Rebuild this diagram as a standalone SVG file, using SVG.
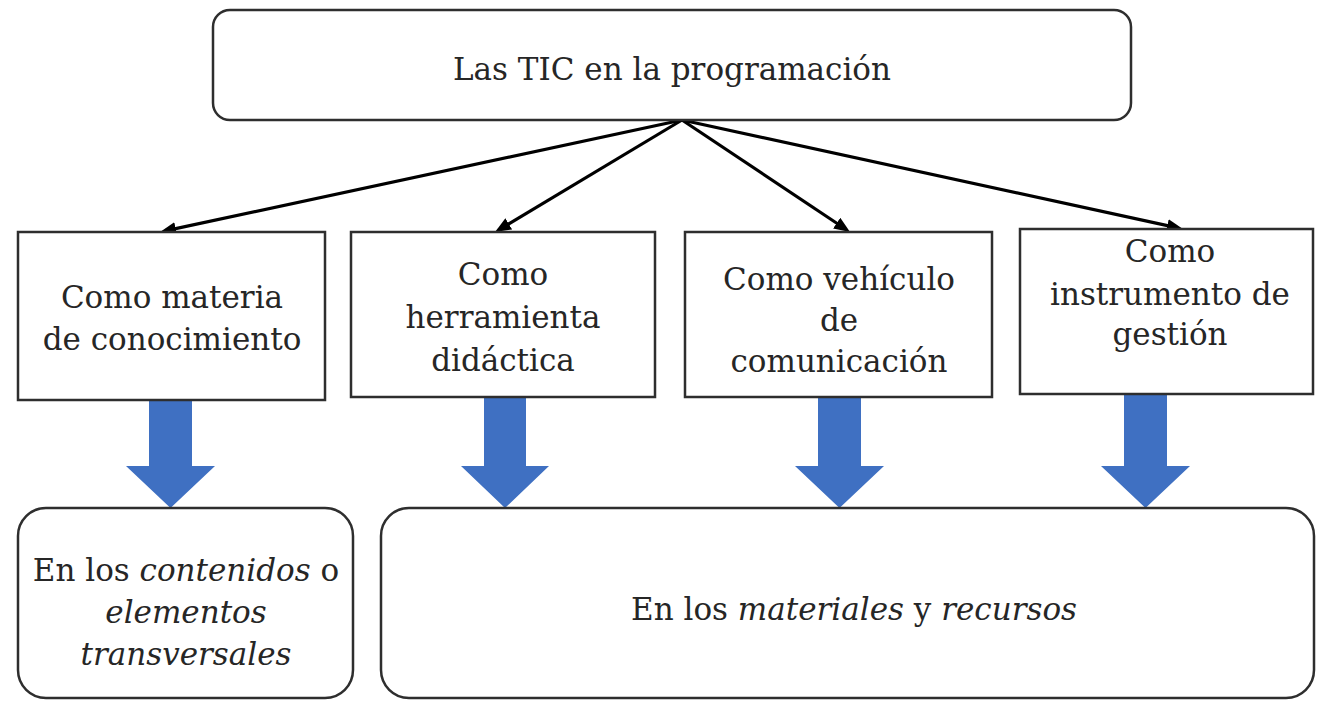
<svg xmlns="http://www.w3.org/2000/svg" width="1317" height="701" viewBox="0 0 1317 701">
<defs>
<style>
.box{fill:#fff;stroke:#2e2e2e;stroke-width:2.5}
.t{font-family:"DejaVu Serif","Liberation Serif",serif;font-size:31px;fill:#262626;text-anchor:middle}
.i{font-style:italic}
.con{stroke:#000;stroke-width:3.2;fill:none}
.blue{fill:#3F70C2}
</style>
<marker id="ah" markerUnits="userSpaceOnUse" markerWidth="16" markerHeight="13" viewBox="0 0 16 13" refX="6" refY="6.5" orient="auto">
<path d="M0,0 L16,6.5 L0,13 z" fill="#000"/>
</marker>
</defs>
<rect width="1317" height="701" fill="#fff"/>
<g id="connectors">
<line class="con" x1="682" y1="120" x2="169.8" y2="229.9" marker-end="url(#ah)"/>
<line class="con" x1="682" y1="120" x2="503.6" y2="226.9" marker-end="url(#ah)"/>
<line class="con" x1="682" y1="120" x2="841.7" y2="226.5" marker-end="url(#ah)"/>
<line class="con" x1="682" y1="120" x2="1173.2" y2="226.9" marker-end="url(#ah)"/>
<polygon class="blue" points="149,399 192,399 192,466 215,466 170.5,508 126,466 149,466"/>
<polygon class="blue" points="484,398 526,398 526,466 549,466 505,508 461,466 484,466"/>
<polygon class="blue" points="818,398 861,398 861,466 884,466 839.5,508 795,466 818,466"/>
<polygon class="blue" points="1124,395 1167,395 1167,466 1190,466 1145.5,508 1101,466 1124,466"/>
</g>
<g id="top">
<rect class="box" x="213" y="10" width="918" height="110" rx="17"/>
<text class="t" x="672" y="80">Las TIC en la programación</text>
</g>
<g id="materia">
<rect class="box" x="18" y="232" width="307" height="168"/>
<text class="t" x="172" y="308">Como materia</text>
<text class="t" x="172" y="350">de conocimiento</text>
</g>
<g id="herramienta">
<rect class="box" x="351" y="232" width="304" height="165"/>
<text class="t" x="503" y="285">Como</text>
<text class="t" x="503" y="328">herramienta</text>
<text class="t" x="503" y="371">didáctica</text>
</g>
<g id="vehiculo">
<rect class="box" x="685" y="232" width="307" height="165"/>
<text class="t" x="839" y="290">Como vehículo</text>
<text class="t" x="839" y="331">de</text>
<text class="t" x="839" y="372">comunicación</text>
</g>
<g id="gestion">
<rect class="box" x="1020" y="229" width="293" height="165"/>
<text class="t" x="1170" y="262">Como</text>
<text class="t" x="1170" y="305">instrumento de</text>
<text class="t" x="1170" y="345">gestión</text>
</g>
<g id="contenidos">
<rect class="box" x="18" y="508" width="335" height="190" rx="28"/>
<text class="t" x="186" y="581">En los <tspan class="i">contenidos</tspan> o</text>
<text class="t i" x="186" y="623">elementos</text>
<text class="t i" x="186" y="665">transversales</text>
</g>
<g id="materiales">
<rect class="box" x="381" y="508" width="933" height="190" rx="28"/>
<text class="t" x="854" y="620">En los <tspan class="i">materiales</tspan> y <tspan class="i">recursos</tspan></text>
</g>
</svg>
